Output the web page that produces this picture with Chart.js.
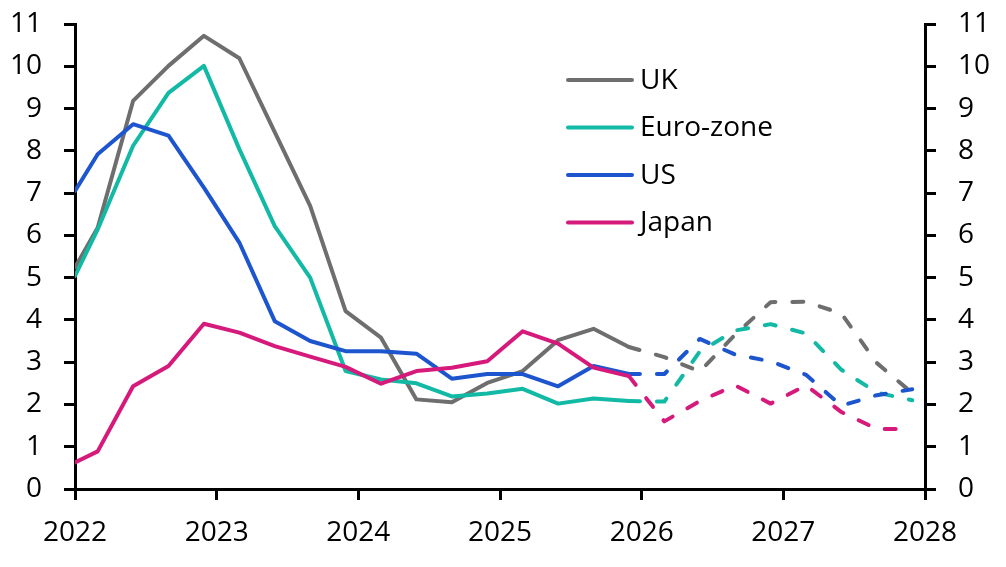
<!DOCTYPE html>
<html>
<head>
    <title>Inflation</title>
    <script src="https://cdn.jsdelivr.net/npm/chart.js"></script>
    <style>
        html, body { margin: 0; padding: 0; background: #fff; }
        #wrap { width: 1006px; height: 567px; }
    </style>
</head>
<body>
    <div id="wrap"><canvas id="grafica"></canvas></div>
    <script>
        // quarters as decimal years (first point sits on the 2022 axis)
        const dates = [2022.0, 2022.16, 2022.41, 2022.66, 2022.91, 2023.16, 2023.41, 2023.66, 2023.91,
                       2024.16, 2024.41, 2024.66, 2024.91, 2025.16, 2025.41, 2025.66, 2025.91,
                       2026.16, 2026.41, 2026.66, 2026.91, 2027.16, 2027.41, 2027.66, 2027.91];
        const actualCount = 17; // points up to 2025 Q4 are outturns, the rest forecasts

        const seriesNames = ['UK', 'Euro-zone', 'US', 'Japan'];
        const uk    = [5.24, 6.18, 9.18, 10.01, 10.72, 10.19, 8.44, 6.70, 4.21, 3.58, 2.12, 2.05, 2.51, 2.79, 3.52, 3.79, 3.36,
                       3.12, 2.78, 3.65, 4.42, 4.43, 4.15, 2.98, 2.27];
        const euro  = [5.04, 6.14, 8.12, 9.37, 10.01, 8.04, 6.22, 5.00, 2.79, 2.59, 2.50, 2.19, 2.26, 2.37, 2.02, 2.14, 2.08,
                       2.07, 3.25, 3.75, 3.90, 3.68, 2.82, 2.28, 2.10];
        const us    = [7.05, 7.92, 8.63, 8.36, 7.13, 5.83, 3.97, 3.50, 3.26, 3.26, 3.20, 2.61, 2.72, 2.72, 2.43, 2.91, 2.72,
                       2.72, 3.55, 3.18, 3.02, 2.70, 1.97, 2.22, 2.36];
        const japan = [0.63, 0.89, 2.43, 2.91, 3.91, 3.70, 3.38, 3.13, 2.89, 2.49, 2.79, 2.87, 3.02, 3.73, 3.44, 2.87, 2.67,
                       1.60, 2.08, 2.45, 2.02, 2.45, 1.82, 1.42, 1.42];

        const xTicks = [2022, 2023, 2024, 2025, 2026, 2027, 2028];
        const yMin = 0, yMax = 11;

        const colores = ['#6e6e6e', '#12b9a5', '#1d55cf', '#d61a7c'];
        const fuente = { family: "'Open Sans', 'Noto Sans', sans-serif", size: 28 };

        function serie(nombre, valores, color, orden) {
            return {
                label: nombre,
                data: dates.map((d, i) => ({ x: d, y: valores[i] })),
                borderColor: color,
                borderWidth: 4,
                borderCapStyle: 'round',
                borderJoinStyle: 'round',
                pointRadius: 0,
                tension: 0,
                order: orden,
                segment: {
                    borderDash: ctx => ctx.p0DataIndex >= actualCount - 1 ? [11, 17] : undefined
                }
            };
        }

        // legend drawn inside the plot, one row per country
        const leyenda = {
            id: 'leyenda',
            afterDraw(chart) {
                const c = chart.ctx;
                c.save();
                c.font = fuente.size + 'px ' + fuente.family;
                c.textBaseline = 'middle';
                c.fillStyle = '#000';
                seriesNames.forEach((n, i) => {
                    const y = 80 + i * 47.5;
                    c.strokeStyle = colores[i];
                    c.lineWidth = 4;
                    c.lineCap = 'round';
                    c.beginPath();
                    c.moveTo(568, y);
                    c.lineTo(632, y);
                    c.stroke();
                    c.fillText(n, 640, y + 1);
                });
                c.restore();
            }
        };

        const ejeY = (pos, ancho) => ({
            type: 'linear',
            position: pos,
            display: true,
            min: yMin,
            max: yMax,
            afterFit: s => { s.width = ancho; s.paddingTop = 0; s.paddingBottom = 0; },
            border: { display: true, color: '#000', width: 3 },
            grid: { drawOnChartArea: false, drawTicks: true, tickLength: 11, color: '#000', lineWidth: 3 },
            ticks: { stepSize: 1, color: '#000', font: fuente, padding: 22 }
        });

        new Chart(document.getElementById('grafica'), {
            type: 'line',
            data: {
                datasets: [
                    serie(seriesNames[0], uk, colores[0], 3),
                    serie(seriesNames[1], euro, colores[1], 2),
                    serie(seriesNames[2], us, colores[2], 1),
                    serie(seriesNames[3], japan, colores[3], 0)
                ]
            },
            options: {
                responsive: true,
                maintainAspectRatio: false,
                animation: false,
                layout: { padding: { top: 24, left: 0, right: 0, bottom: 0 } },
                plugins: { legend: { display: false }, tooltip: { enabled: false } },
                scales: {
                    x: {
                        type: 'linear',
                        min: xTicks[0],
                        max: xTicks[xTicks.length - 1],
                        afterFit: s => { s.height = 78; },
                        afterBuildTicks: s => { s.ticks = xTicks.map(v => ({ value: v })); },
                        border: { display: true, color: '#000', width: 3 },
                        grid: { drawOnChartArea: false, drawTicks: true, tickLength: 11, color: '#000', lineWidth: 3 },
                        ticks: { color: '#000', font: fuente, padding: 16, maxRotation: 0, callback: v => String(v) }
                    },
                    y: ejeY('left', 75),
                    y2: ejeY('right', 81)
                }
            },
            plugins: [leyenda]
        });
    </script>
</body>
</html>
